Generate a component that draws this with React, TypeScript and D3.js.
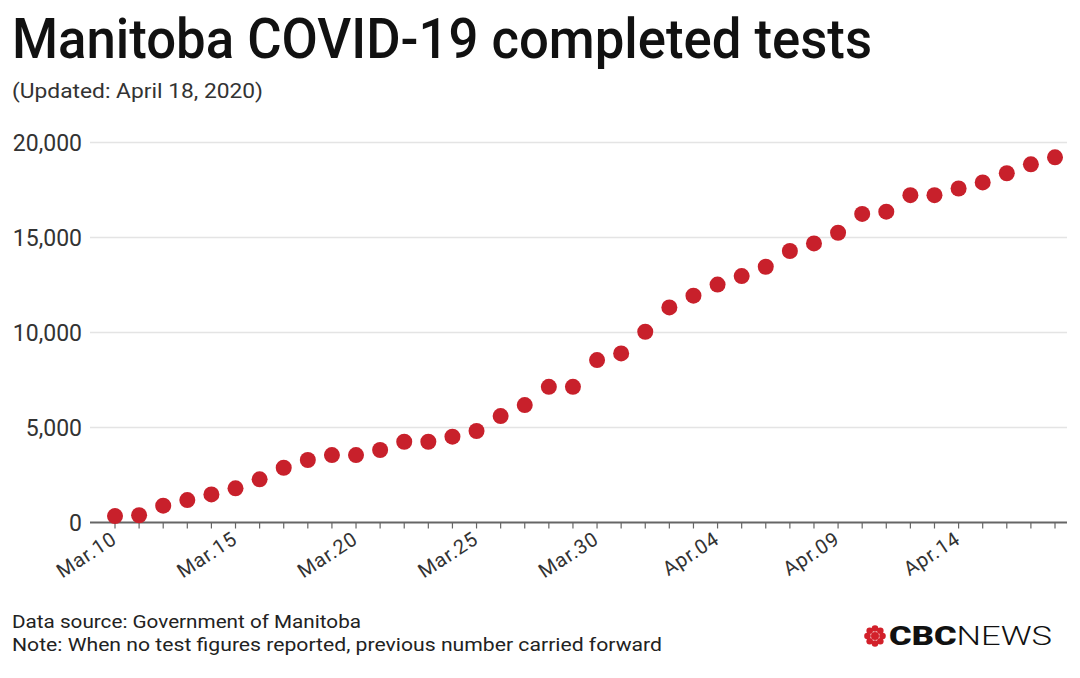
import React, { useEffect, useRef } from "react";
import * as d3 from "d3";

const dates: string[] = [
  "2020-03-10","2020-03-11","2020-03-12","2020-03-13","2020-03-14","2020-03-15","2020-03-16","2020-03-17","2020-03-18","2020-03-19",
  "2020-03-20","2020-03-21","2020-03-22","2020-03-23","2020-03-24","2020-03-25","2020-03-26","2020-03-27","2020-03-28","2020-03-29",
  "2020-03-30","2020-03-31","2020-04-01","2020-04-02","2020-04-03","2020-04-04","2020-04-05","2020-04-06","2020-04-07","2020-04-08",
  "2020-04-09","2020-04-10","2020-04-11","2020-04-12","2020-04-13","2020-04-14","2020-04-15","2020-04-16","2020-04-17","2020-04-18",
];
const tests: number[] = [
  340, 380, 885, 1180, 1480, 1800, 2270, 2880, 3290, 3550,
  3550, 3815, 4250, 4250, 4515, 4815, 5600, 6180, 7140, 7140,
  8550, 8900, 10040, 11320, 11940, 12520, 12970, 13460, 14290, 14690,
  15250, 16240, 16360, 17230, 17230, 17580, 17900, 18380, 18850, 19220,
];
const yTicks: number[] = [0, 5000, 10000, 15000, 20000];
const xLabelDates: string[] = ["2020-03-10","2020-03-15","2020-03-20","2020-03-25","2020-03-30","2020-04-04","2020-04-09","2020-04-14"];

const W = 1080, H = 678;
const FONT = "Roboto, 'Noto Sans', sans-serif";

export default function App() {
  const ref = useRef<SVGSVGElement>(null);
  useEffect(() => {
    document.body.style.margin = "0";
    const svg = d3.select(ref.current);
    svg.selectAll("*").remove();
    const parse = d3.utcParse("%Y-%m-%d");
    const data = dates.map((d, i) => ({ date: parse(d)!, v: tests[i] }));
    const x = d3.scaleUtc().domain([data[0].date, data[data.length - 1].date]).range([115, 1055]);
    const y = d3.scaleLinear().domain([0, 20000]).range([522.5, 142.5]);
    const left = 90, right = 1067;

    // title
    svg.append("text").attr("x", 12).attr("y", 58).attr("font-family", FONT).attr("font-weight", 500)
      .attr("font-size", 55).attr("fill", "#111").attr("textLength", 860).attr("lengthAdjust", "spacingAndGlyphs")
      .text("Manitoba COVID-19 completed tests");
    svg.append("text").attr("x", 12).attr("y", 98).attr("font-family", FONT)
      .attr("font-size", 20).attr("fill", "#333").attr("textLength", 251).attr("lengthAdjust", "spacingAndGlyphs")
      .text("(Updated: April 18, 2020)");

    // grid
    const g = svg.append("g");
    g.selectAll("line.grid").data(yTicks.filter(t => t > 0)).join("line")
      .attr("x1", left).attr("x2", right).attr("y1", d => y(d)).attr("y2", d => y(d))
      .attr("stroke", "#e4e4e4").attr("stroke-width", 1.5);
    g.selectAll("text.ytick").data(yTicks).join("text")
      .attr("x", 82).attr("y", d => y(d) + 8).attr("text-anchor", "end")
      .attr("font-family", FONT).attr("font-size", 23).attr("fill", "#333")
      .text(d => d3.format(",")(d));

    // x axis
    g.append("line").attr("x1", left).attr("x2", right).attr("y1", y(0)).attr("y2", y(0))
      .attr("stroke", "#666").attr("stroke-width", 2);
    g.selectAll("line.tick").data(data).join("line")
      .attr("x1", d => x(d.date)).attr("x2", d => x(d.date)).attr("y1", y(0)).attr("y2", y(0) + 6)
      .attr("stroke", "#666").attr("stroke-width", 1.2);
    const fmt = d3.utcFormat("%b.%d");
    g.selectAll("text.xtick").data(xLabelDates.map(d => parse(d)!)).join("text")
      .attr("transform", d => `translate(${x(d) + 3},${y(0) + 20}) rotate(-33)`)
      .attr("text-anchor", "end").attr("font-family", FONT).attr("font-size", 20).attr("letter-spacing", 0.8)
      .attr("fill", "#333")
      .text(d => fmt(d));

    // dots
    g.selectAll("circle.dot").data(data).join("circle")
      .attr("cx", d => x(d.date)).attr("cy", d => y(d.v)).attr("r", 8)
      .attr("fill", "#c8202b");

    // footer
    svg.append("text").attr("x", 12).attr("y", 628).attr("font-family", FONT).attr("font-size", 18)
      .attr("fill", "#222").attr("textLength", 349).attr("lengthAdjust", "spacingAndGlyphs")
      .text("Data source: Government of Manitoba");
    svg.append("text").attr("x", 12).attr("y", 651).attr("font-family", FONT).attr("font-size", 18)
      .attr("fill", "#222").attr("textLength", 650).attr("lengthAdjust", "spacingAndGlyphs")
      .text("Note: When no test figures reported, previous number carried forward");

    // CBC logo
    const gem = svg.append("g").attr("transform", "translate(875,636)");
    gem.append("circle").attr("r", 4).attr("fill", "#d2202a");
    const angles = d3.range(8).map(i => (i * Math.PI) / 4);
    gem.selectAll("circle.o").data(angles).join("circle")
      .attr("cx", a => Math.cos(a) * 7.5).attr("cy", a => Math.sin(a) * 7.5).attr("r", 3.3).attr("fill", "#d2202a");
    const logo = svg.append("text").attr("x", 889).attr("y", 645).attr("font-family", FONT).attr("font-size", 26)
      .attr("textLength", 163).attr("lengthAdjust", "spacingAndGlyphs");
    logo.append("tspan").attr("font-weight", 900).attr("fill", "#111").text("CBC");
    logo.append("tspan").attr("font-weight", 300).attr("fill", "#111").text("NEWS");
  }, []);
  return <svg ref={ref} width={W} height={H} style={{ display: "block", background: "#fff" }} />;
}
